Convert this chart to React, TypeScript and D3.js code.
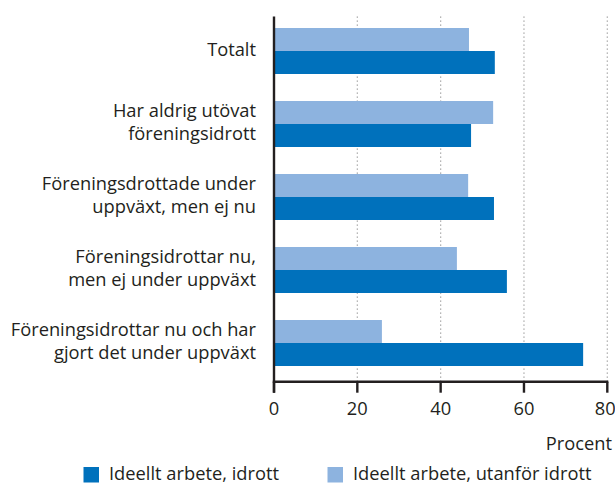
import React from "react";
import * as d3 from "d3";

const categories: string[][] = [
  ["Totalt"],
  ["Har aldrig utövat", "föreningsidrott"],
  ["Föreningsdrottade under", "uppväxt, men ej nu"],
  ["Föreningsidrottar nu,", "men ej under uppväxt"],
  ["Föreningsidrottar nu och har", "gjort det under uppväxt"],
];
const seriesNames = ["Ideellt arbete, idrott", "Ideellt arbete, utanför idrott"];
const idrott = [53.0, 47.3, 52.8, 55.9, 74.2];
const utanfor = [46.8, 52.6, 46.6, 43.9, 25.9];
const xTicks = [0, 20, 40, 60, 80];

const DARK = "#0071BC";
const LIGHT = "#8DB3DF";
const TEXT = "#231F20";
const FONT = "'Open Sans', Lato, sans-serif";

export default function App() {
  const W = 615;
  const H = 485;
  const x = d3.scaleLinear().domain([0, 80]).range([274, 607.3]);
  const y = d3
    .scaleBand<number>()
    .domain(d3.range(categories.length))
    .range([14.5, 379.5])
    .paddingInner(0.37)
    .paddingOuter(0.185);
  const sub = d3.scaleBand<number>().domain([0, 1]).range([0, y.bandwidth()]);
  const plotTop = 16.5;
  const plotBottom = 381.7;
  const fs = 18.3;

  return (
    <svg
      width={W}
      height={H}
      style={{ position: "absolute", left: 0, top: 0, background: "#fff" }}
      fontFamily={FONT}
    >
      {/* grid */}
      {xTicks.slice(1).map((t) => (
        <line
          key={"g" + t}
          x1={x(t)}
          x2={x(t)}
          y1={plotTop}
          y2={plotBottom}
          stroke="#9a9a9a"
          strokeWidth={1.2}
          strokeDasharray="1.2,2.8"
        />
      ))}
      {/* bars */}
      {categories.map((_, i) => (
        <g key={"b" + i}>
          <rect
            x={x(0)}
            y={(y(i) as number) + (sub(0) as number)}
            width={x(utanfor[i]) - x(0)}
            height={sub.bandwidth()}
            fill={LIGHT}
          />
          <rect
            x={x(0)}
            y={(y(i) as number) + (sub(1) as number)}
            width={x(idrott[i]) - x(0)}
            height={sub.bandwidth()}
            fill={DARK}
          />
        </g>
      ))}
      {/* axes */}
      <line x1={x(0)} x2={x(0)} y1={plotTop} y2={plotBottom + 11} stroke={TEXT} strokeWidth={2.4} />
      <line x1={x(0) - 1.2} x2={x(80) + 1} y1={plotBottom} y2={plotBottom} stroke={TEXT} strokeWidth={2.4} />
      {xTicks.map((t) => (
        <g key={"t" + t}>
          <line x1={x(t)} x2={x(t)} y1={plotBottom} y2={plotBottom + 11} stroke={TEXT} strokeWidth={2.4} />
          <text
            x={t === 80 ? x(t) - 2 : x(t)}
            y={plotBottom + 28}
            textAnchor="middle"
            dominantBaseline="middle"
            fontSize={fs}
            fill={TEXT}
          >
            {t}
          </text>
        </g>
      ))}
      <text x={612} y={450} textAnchor="end" fontSize={fs} fill={TEXT}>
        Procent
      </text>
      {/* category labels */}
      {categories.map((lines, i) => {
        const cy = (y(i) as number) + y.bandwidth() / 2;
        const lh = 23;
        const start = cy - ((lines.length - 1) * lh) / 2;
        return lines.map((ln, j) => (
          <text
            key={"c" + i + j}
            x={256}
            y={start + j * lh}
            textAnchor="end"
            dominantBaseline="middle"
            fontSize={fs}
            fill={TEXT}
          >
            {ln}
          </text>
        ));
      })}
      {/* legend */}
      {seriesNames.map((s, i) => {
        const lx = i === 0 ? 83.5 : 327.5;
        return (
          <g key={"l" + i}>
            <rect x={lx} y={467} width={15.5} height={15.5} fill={i === 0 ? DARK : LIGHT} />
            <text x={lx + 25.5} y={475} dominantBaseline="middle" fontSize={fs} fill={TEXT}>
              {s}
            </text>
          </g>
        );
      })}
    </svg>
  );
}
